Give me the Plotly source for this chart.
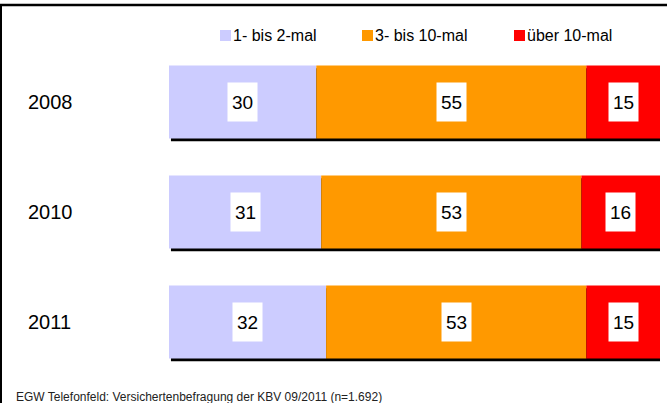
import plotly.graph_objects as go

years = ["2008", "2010", "2011"]
series_names = ["1- bis 2-mal", "3- bis 10-mal", "über 10-mal"]
vals_low = [30, 31, 32]
vals_mid = [55, 53, 53]
vals_high = [15, 16, 15]
colors = ["#CCCCFF", "#FF9900", "#FF0000"]
footnote = "EGW Telefonfeld: Versichertenbefragung der KBV 09/2011 (n=1.692)"

FONT = "Liberation Sans, Arial, sans-serif"
W, H = 667, 403
ML, MR, MT, MB = 169, 7, 47, 26
PW, PH = W - ML - MR, H - MT - MB
BARW = 73 / 110

def px2paper_x(px):
    return (px - ML) / PW

def px2paper_y(py):
    return (H - MB - py) / PH

ypos = list(range(len(years)))
series = [vals_low, vals_mid, vals_high]

fig = go.Figure()
bases = [0] * len(years)
for name, vals, col in zip(series_names, series, colors):
    fig.add_trace(go.Bar(
        orientation="h", y=ypos, x=vals, base=bases[:], name=name,
        marker=dict(color=col, line=dict(width=0)), width=BARW,
        showlegend=False, hoverinfo="skip",
    ))
    bases = [b + v for b, v in zip(bases, vals)]

totals = bases
shapes = []
# shadows behind bars
for i, t in enumerate(totals):
    shapes.append(dict(type="rect", xref="x", yref="y", layer="below",
                       x0=0.4, x1=t + 0.4, y0=i - BARW / 2 + 0.025, y1=i + BARW / 2 + 0.025,
                       fillcolor="black", line=dict(width=0)))

annotations = []
# value labels
bases = [0] * len(years)
for vals in series:
    for i, v in enumerate(vals):
        annotations.append(dict(x=bases[i] + v / 2, y=i, xref="x", yref="y", text=str(v),
                                showarrow=False, bgcolor="white", width=27, height=36,
                                font=dict(family=FONT, size=19, color="black")))
    bases = [b + v for b, v in zip(bases, vals)]

# year labels
for i, yr in enumerate(years):
    annotations.append(dict(x=px2paper_x(26), y=i, xref="paper", yref="y", text=yr,
                            xanchor="left", showarrow=False,
                            font=dict(family=FONT, size=20, color="black")))

# manual legend
leg_sq_x = [220, 362, 514]
for name, col, sx in zip(series_names, colors, leg_sq_x):
    shapes.append(dict(type="rect", xref="paper", yref="paper",
                       x0=px2paper_x(sx), x1=px2paper_x(sx + 11),
                       y0=px2paper_y(41), y1=px2paper_y(30),
                       fillcolor=col, line=dict(width=0)))
    annotations.append(dict(x=px2paper_x(sx + 11), y=px2paper_y(35.5), xref="paper", yref="paper",
                            text=name, xanchor="left", yanchor="middle", showarrow=False,
                            font=dict(family=FONT, size=16, color="black")))

# footnote
annotations.append(dict(x=px2paper_x(14), y=px2paper_y(388), xref="paper", yref="paper",
                        text=footnote, xanchor="left", yanchor="top", showarrow=False,
                        font=dict(family=FONT, size=12, color="#222222")))

# frame lines
shapes.append(dict(type="line", xref="paper", yref="paper",
                   x0=px2paper_x(0), x1=px2paper_x(667), y0=px2paper_y(5), y1=px2paper_y(5),
                   line=dict(color="black", width=2.5)))
shapes.append(dict(type="line", xref="paper", yref="paper",
                   x0=px2paper_x(1), x1=px2paper_x(1), y0=px2paper_y(5), y1=px2paper_y(403),
                   line=dict(color="black", width=2)))

fig.update_layout(
    width=W, height=H, barmode="overlay",
    margin=dict(l=ML, r=MR, t=MT, b=MB),
    paper_bgcolor="white", plot_bgcolor="white",
    xaxis=dict(range=[0, 100], visible=False, fixedrange=True),
    yaxis=dict(range=[len(years) - 0.5, -0.5], visible=False, fixedrange=True),
    shapes=shapes, annotations=annotations,
    font=dict(family=FONT),
)

fig.write_html("out.html")
